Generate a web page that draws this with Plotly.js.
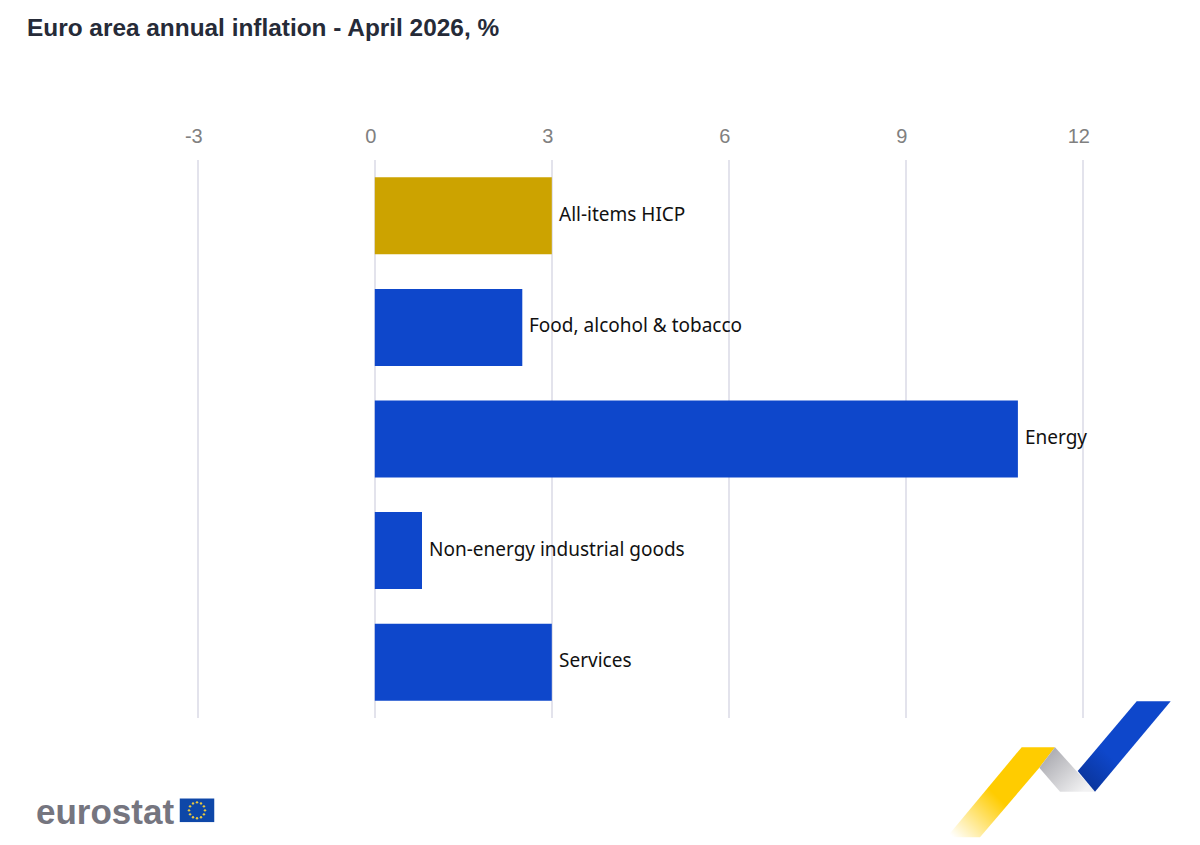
<!DOCTYPE html>
<html>
<head>
<meta charset="utf-8">
<script src="https://cdn.plot.ly/plotly-3.0.1.min.js"></script>
<style>html,body{margin:0;padding:0;background:#fff}#chart{width:1200px;height:845px}</style>
</head>
<body>
<div id="chart"></div>
<script>
const categories = ["All-items HICP", "Food, alcohol & tobacco", "Energy", "Non-energy industrial goods", "Services"];
const values = [3.0, 2.5, 10.9, 0.8, 3.0];
const barColors = ["#CCA300", "#0E47CB", "#0E47CB", "#0E47CB", "#0E47CB"];
const tickValues = [-3, 0, 3, 6, 9, 12];
const titleText = "Euro area annual inflation - April 2026, %";

const W = 1200, H = 845, M = {l: 190, r: 0, t: 159.5, b: 126.5, pad: 0};
const px = x => (x - M.l) / (W - M.l - M.r);
const py = y => 1 - (y - M.t) / (H - M.t - M.b);

const ribbon = `<svg xmlns="http://www.w3.org/2000/svg" width="240" height="150" viewBox="940 695 240 150">
<defs>
<linearGradient id="y" gradientUnits="userSpaceOnUse" x1="1040" y1="755" x2="955" y2="840"><stop offset="0" stop-color="#FFCC00"/><stop offset="0.5" stop-color="#FFCC00"/><stop offset="1" stop-color="#FFCC00" stop-opacity="0"/></linearGradient>
<linearGradient id="g" gradientUnits="userSpaceOnUse" x1="1042" y1="755" x2="1080" y2="795"><stop offset="0" stop-color="#A8A8AE"/><stop offset="1" stop-color="#F2F2F3"/></linearGradient>
<linearGradient id="b" gradientUnits="userSpaceOnUse" x1="1150" y1="715" x2="1085" y2="785"><stop offset="0" stop-color="#0E47CB"/><stop offset="0.6" stop-color="#0E47CB"/><stop offset="1" stop-color="#0A359C"/></linearGradient>
</defs>
<polygon points="1021.7,747.7 1055,747.7 1039.3,768.3 980,838 946.7,838" fill="url(#y)"/>
<polygon points="1055,747.7 1095,792.3 1060,792.3 1039.3,768.3" fill="url(#g)"/>
<polygon points="1136.7,701.7 1170.7,701.7 1095,792.3 1077.7,771.7" fill="url(#b)"/>
</svg>`;

let stars = "";
for (let i = 0; i < 12; i++) {
  const a = i * Math.PI / 6;
  stars += `<circle cx="${17.5 + 8 * Math.cos(a)}" cy="${12 + 8 * Math.sin(a)}" r="1.2" fill="#E8C840"/>`;
}
const flag = `<svg xmlns="http://www.w3.org/2000/svg" width="35" height="24" viewBox="0 0 35 24"><rect width="35" height="24" fill="#0E47A8"/>${stars}</svg>`;
const uri = s => "data:image/svg+xml;charset=utf-8," + encodeURIComponent(s);

const trace = {
  type: "bar", orientation: "h",
  y: categories, x: values,
  marker: {color: barColors, line: {width: 0}},
  hoverinfo: "skip"
};

const annotations = categories.map((c, i) => ({
  x: values[i], y: c, xref: "x", yref: "y",
  text: c, showarrow: false, xanchor: "left", xshift: 5, yshift: 2,
  font: {family: "Noto Sans", size: 19, color: "#111111"}
}));
annotations.push({
  xref: "paper", yref: "paper", x: px(34), y: py(812), xanchor: "left", yanchor: "middle",
  text: "<b>eurostat</b>", showarrow: false,
  font: {family: "Liberation Sans", size: 35, color: "#75757F"}
});

const layout = {
  width: W, height: H, margin: M,
  paper_bgcolor: "#fff", plot_bgcolor: "#fff",
  showlegend: false, bargap: 0.31,
  title: {text: "<b>" + titleText + "</b>", x: 27 / W, xanchor: "left", y: 1 - 27 / H, yanchor: "middle",
          font: {family: "Liberation Sans", size: 24.4, color: "#262B38"}},
  xaxis: {side: "top", range: [(M.l - 374.8) / 59, (W - M.r - 374.8) / 59], tickvals: tickValues, ticktext: tickValues.map(String),
          showgrid: true, gridcolor: "#E3E3EC", gridwidth: 1.5, zeroline: true, zerolinecolor: "#E3E3EC", zerolinewidth: 1.5,
          showline: false, ticks: "", ticklabelstandoff: 12, ticklabelshift: -4,
          tickfont: {family: "Liberation Sans", size: 20, color: "#808080"}},
  yaxis: {type: "category", autorange: "reversed", showticklabels: false, showgrid: false, zeroline: false, showline: false, ticks: ""},
  annotations,
  images: [
    {source: uri(ribbon), xref: "paper", yref: "paper", x: px(940), y: py(695), sizex: 240 / (W - M.l - M.r), sizey: 150 / (H - M.t - M.b),
     xanchor: "left", yanchor: "top", sizing: "stretch", layer: "above"},
    {source: uri(flag), xref: "paper", yref: "paper", x: px(179.5), y: py(799), sizex: 35 / (W - M.l - M.r), sizey: 24 / (H - M.t - M.b),
     xanchor: "left", yanchor: "top", sizing: "stretch", layer: "above"}
  ]
};
Plotly.newPlot("chart", [trace], layout, {displayModeBar: false, staticPlot: true});
</script>
</body>
</html>
